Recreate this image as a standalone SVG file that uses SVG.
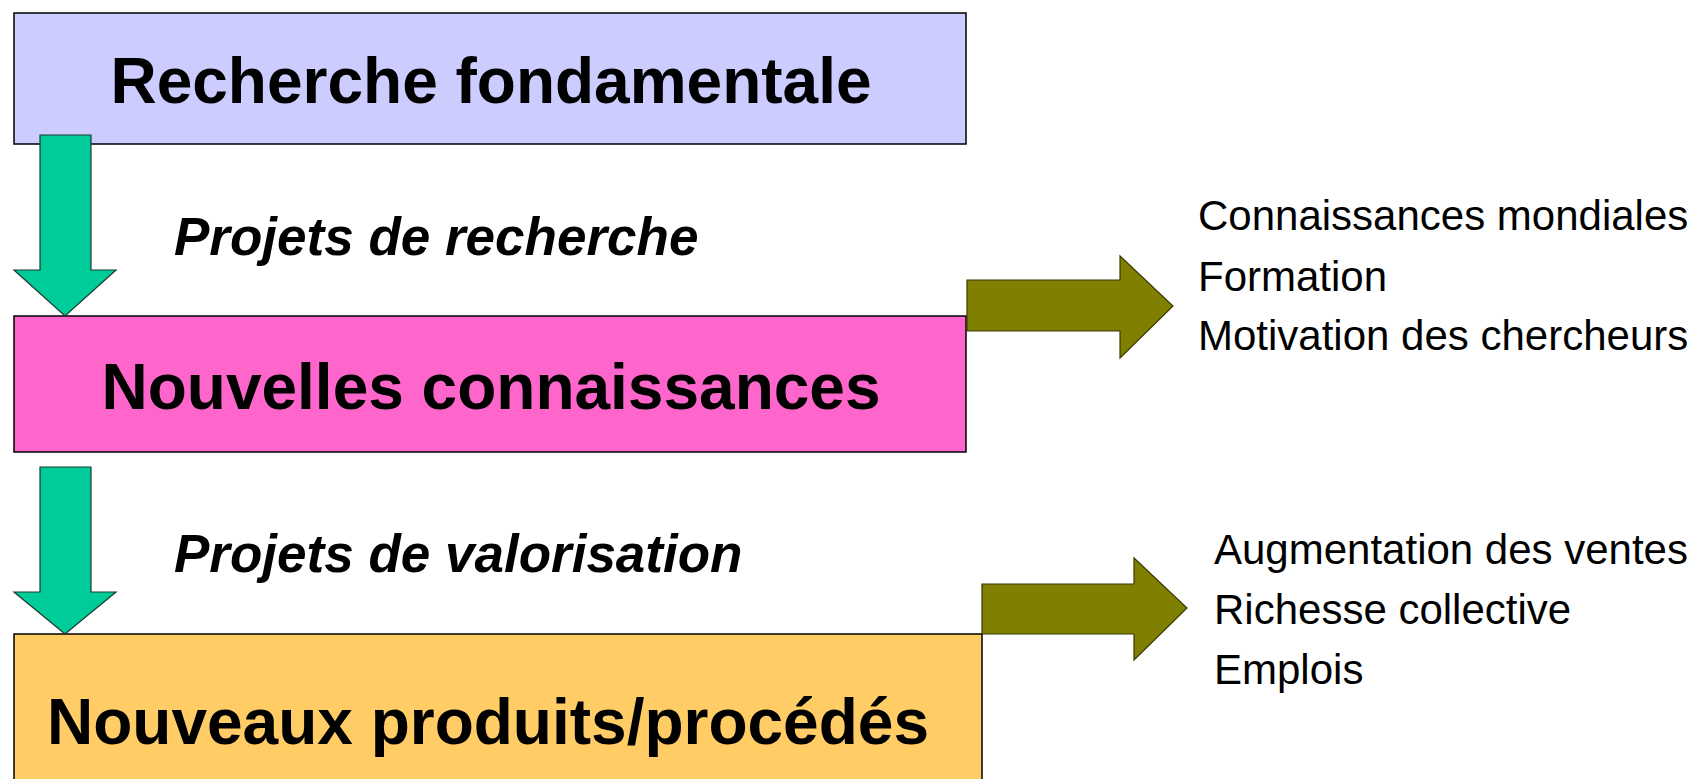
<svg xmlns="http://www.w3.org/2000/svg" width="1702" height="779" viewBox="0 0 1702 779">
<style>
.box{stroke:#000;stroke-width:1.5}
.title{font-family:"Liberation Sans",Arial,sans-serif;font-weight:bold;font-size:64px;fill:#000;text-anchor:middle}
.lbl{font-family:"Liberation Sans",Arial,sans-serif;font-weight:bold;font-style:italic;font-size:53px;fill:#000}
.out{font-family:"Liberation Sans",Arial,sans-serif;font-size:42px;fill:#000}
.down{fill:#00CC99;stroke:#1a3a30;stroke-width:1.2}
.right{fill:#808000;stroke:#3a3a00;stroke-width:1.2}
</style>
<rect width="1702" height="779" fill="#fff"/>
<g id="node-recherche">
<rect class="box" x="14" y="13" width="952" height="131" fill="#CCCCFF"/>
<text class="title" x="491" y="103">Recherche fondamentale</text>
</g>
<g id="node-nouvelles">
<rect class="box" x="14" y="316" width="952" height="136" fill="#FF66CC"/>
<text class="title" x="491" y="409">Nouvelles connaissances</text>
</g>
<g id="node-produits">
<rect class="box" x="14" y="634" width="968" height="170" fill="#FFCC66"/>
<text class="title" x="488" y="744">Nouveaux produits/procédés</text>
</g>
<g id="connectors">
<polygon class="down" points="40,135 91,135 91,270 116,270 65,316 14,270 40,270"/>
<polygon class="down" points="40,467 91,467 91,592 116,592 65,634 14,592 40,592"/>
<polygon class="right" points="967,280 1120,280 1120,256 1173,306 1120,358 1120,331 967,331"/>
<polygon class="right" points="982,584 1134,584 1134,558 1187,608 1134,660 1134,634 982,634"/>
<text class="lbl" x="174" y="255">Projets de recherche</text>
<text class="lbl" x="174" y="572">Projets de valorisation</text>
</g>
<g id="outcomes-1">
<text class="out" x="1198" y="230">Connaissances mondiales</text>
<text class="out" x="1198" y="291">Formation</text>
<text class="out" x="1198" y="350">Motivation des chercheurs</text>
</g>
<g id="outcomes-2">
<text class="out" x="1214" y="564">Augmentation des ventes</text>
<text class="out" x="1214" y="624">Richesse collective</text>
<text class="out" x="1214" y="684">Emplois</text>
</g>
</svg>
